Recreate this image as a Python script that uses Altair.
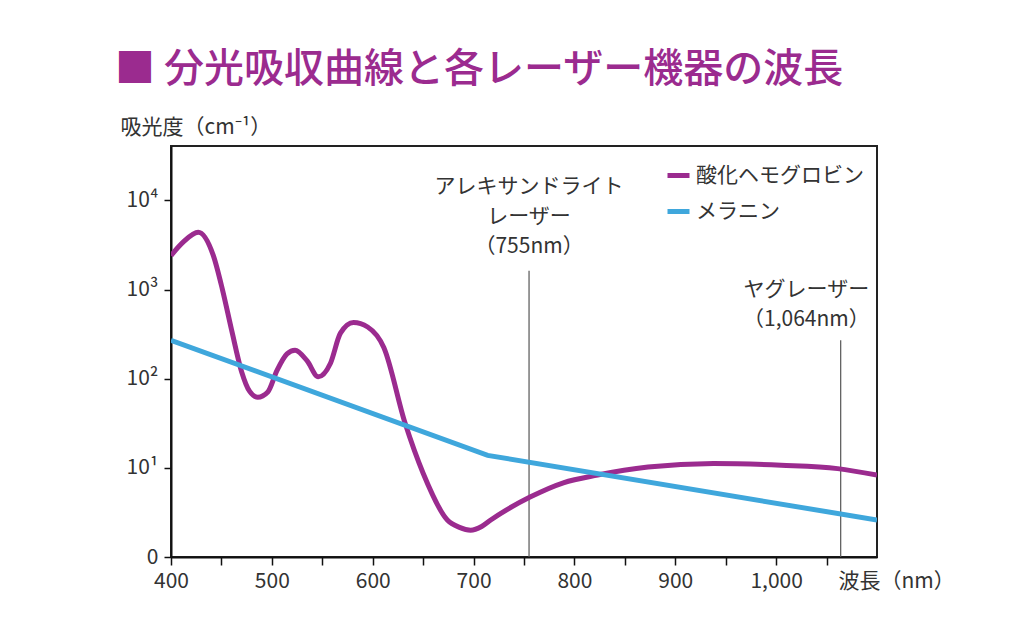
import altair as alt
import pandas as pd

# ---- data ----
hb_nm = [400, 412, 427, 442, 451, 460, 470, 478, 486, 496, 505, 515, 523, 535, 546,
         558, 568, 581, 595, 611, 632, 650, 674, 686, 697, 708, 717, 756, 789, 823, 873, 938, 1005, 1061, 1100]
hb_abs = [2400, 3400, 4400, 2400, 1000, 355, 120, 72, 62, 71, 123, 190, 209, 158, 105,
          148, 324, 427, 380, 224, 32, 8.7, 2.6, 2.15, 2.0, 2.2, 2.6, 4.7, 6.8, 8.3, 10.2, 11.2, 10.7, 9.8, 8.3]

mel_nm = [400, 714, 1100]
mel_abs = [270, 13.8, 2.6]

series_names = ["酸化ヘモグロビン", "メラニン"]
series_colors = ["#9b2b8f", "#3fa7dc"]

laser_nm = [755, 1064]
laser_top = [1620, 270]
label_nm = [755, 1030]
label_y = [14300, 980]
label_text = ["アレキサンドライト\nレーザー\n（755nm）", "ヤグレーザー\n（1,064nm）"]

x_ticks = [400, 450, 500, 550, 600, 650, 700, 750, 800, 850, 900, 950, 1000, 1050]
y_ticks = [1, 10, 100, 1000, 10000]

FONT = "Noto Sans CJK JP"
PURPLE = "#9b2b8f"

hb = pd.DataFrame({"nm": hb_nm, "abs": hb_abs, "series": series_names[0]})
mel = pd.DataFrame({"nm": mel_nm, "abs": mel_abs, "series": series_names[1]})
lasers = pd.DataFrame({"nm": laser_nm, "top": laser_top, "bottom": [1, 1]})
labels = pd.DataFrame({"nm": label_nm, "y": label_y, "text": label_text})

xscale = alt.Scale(domain=[400, 1100], nice=False, zero=False)
yscale = alt.Scale(type="log", domain=[1, 10 ** 4.61], nice=False)
cscale = alt.Scale(domain=series_names, range=series_colors)

x_axis = alt.Axis(
    values=x_ticks,
    labelExpr="datum.value % 100 == 0 ? format(datum.value, ',') : ''",
    title="波長（nm）", titleAnchor="start", titleX=667, titleY=24, titleAlign="left",
    titleBaseline="middle", titleFontWeight="normal", titleFontSize=21, titleColor="#333",
    tickSize=8, labelPadding=5, grid=False, labelFlush=False,
)
y_axis = alt.Axis(
    values=y_ticks,
    labelExpr="datum.value == 1 ? '0' : datum.value == 10 ? '10¹' : datum.value == 100 ? '10²' : datum.value == 1000 ? '10³' : '10⁴'",
    title="吸光度（cm⁻¹）", titleAngle=0, titleAlign="left", titleX=-51, titleY=-13,
    titleBaseline="alphabetic", titleFontWeight="normal", titleFontSize=21, titleColor="#333",
    tickSize=7, labelPadding=6, grid=False, labelFlush=False,
)

legend = alt.Legend(
    title=None, orient="none", legendX=494, legendY=16,
    symbolType="stroke", symbolStrokeWidth=5, symbolSize=484,
    labelFontSize=21, labelFont=FONT, labelColor="#333", labelOffset=4,
    rowPadding=12, labelLimit=300,
)

vlines = alt.Chart(lasers).mark_rule(color="#555", strokeWidth=1.2).encode(
    x=alt.X("nm:Q", scale=xscale, axis=x_axis),
    y=alt.Y("top:Q", scale=yscale, axis=y_axis),
    y2="bottom:Q",
)

hb_line = alt.Chart(hb).mark_line(strokeWidth=5, interpolate="monotone", clip=True).encode(
    x=alt.X("nm:Q", scale=xscale),
    y=alt.Y("abs:Q", scale=yscale),
    color=alt.Color("series:N", scale=cscale, legend=legend),
)

mel_line = alt.Chart(mel).mark_line(strokeWidth=5, interpolate="linear", clip=True).encode(
    x=alt.X("nm:Q", scale=xscale),
    y=alt.Y("abs:Q", scale=yscale),
    color=alt.Color("series:N", scale=cscale, legend=legend),
)

texts = alt.Chart(labels).mark_text(
    font=FONT, fontSize=21, color="#333", lineBreak="\n", lineHeight=30, baseline="middle", align="center"
).encode(
    x=alt.X("nm:Q", scale=xscale),
    y=alt.Y("y:Q", scale=yscale),
    text="text:N",
)

chart = alt.layer(vlines, hb_line, mel_line, texts).properties(
    width=706, height=411,
    background="white",
    autosize=alt.AutoSizeParams(type="none"),
    padding={"left": 163, "top": 138, "right": 130, "bottom": 70},
    title=alt.TitleParams(
        text="■  分光吸収曲線と各レーザー機器の波長", anchor="start", frame="group",
        dx=-56, offset=26, font=FONT, fontSize=40, fontWeight=500, color=PURPLE,
    ),
).configure_view(stroke="#222", strokeWidth=2).configure_axis(
    grid=False, domainColor="#111", domainWidth=2, tickColor="#111", tickWidth=1.5,
    labelFont=FONT, labelFontSize=21, labelColor="#333", titleFont=FONT,
)

chart.save("out.html", embed_options={"renderer": "svg", "actions": False})
